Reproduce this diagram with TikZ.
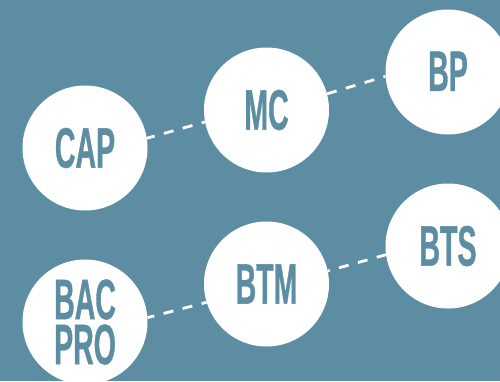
\documentclass[tikz,border=0pt]{standalone}
\usepackage{fontspec}
\setmainfont[BoldFont={Liberation Sans Bold},BoldFeatures={FakeStretch=0.5,FakeBold=0.6}]{Liberation Sans}
\definecolor{bgblue}{HTML}{5C8DA3}
\tikzset{
  bubble/.style={circle,fill=white,text=bgblue,minimum size=125pt,inner sep=0pt,align=center,
    font=\fontsize{57}{45}\selectfont\bfseries},
  link/.style={white,line width=2.8pt,dash pattern=on 10pt off 9.6pt}
}
\begin{document}
\begin{tikzpicture}[x=1pt,y=-1pt]
\useasboundingbox (0,0) rectangle (500,381);
\fill[bgblue] (0,0) rectangle (500,381);
\node[bubble] (cap) at (85,148) {CAP};
\node[bubble] (mc) at (266.5,110) {MC};
\node[bubble] (bp) at (448,72) {\raisebox{1.5pt}{BP}};
\node[bubble] (bacpro) at (85,322) {BAC\\PRO};
\node[bubble] (btm) at (266.5,284) {BTM};
\node[bubble] (bts) at (448,246) {BTS};
\draw[link,dash phase=2pt] (cap.9.6) -- (mc.191);
\draw[link] (mc.15) -- (bp.184.6);
\draw[link,dash phase=3pt] (bacpro.4.6) -- (btm.197.4);
\draw[link,dash phase=8pt] (btm.12) -- (bts.188.3);
\end{tikzpicture}
\end{document}
